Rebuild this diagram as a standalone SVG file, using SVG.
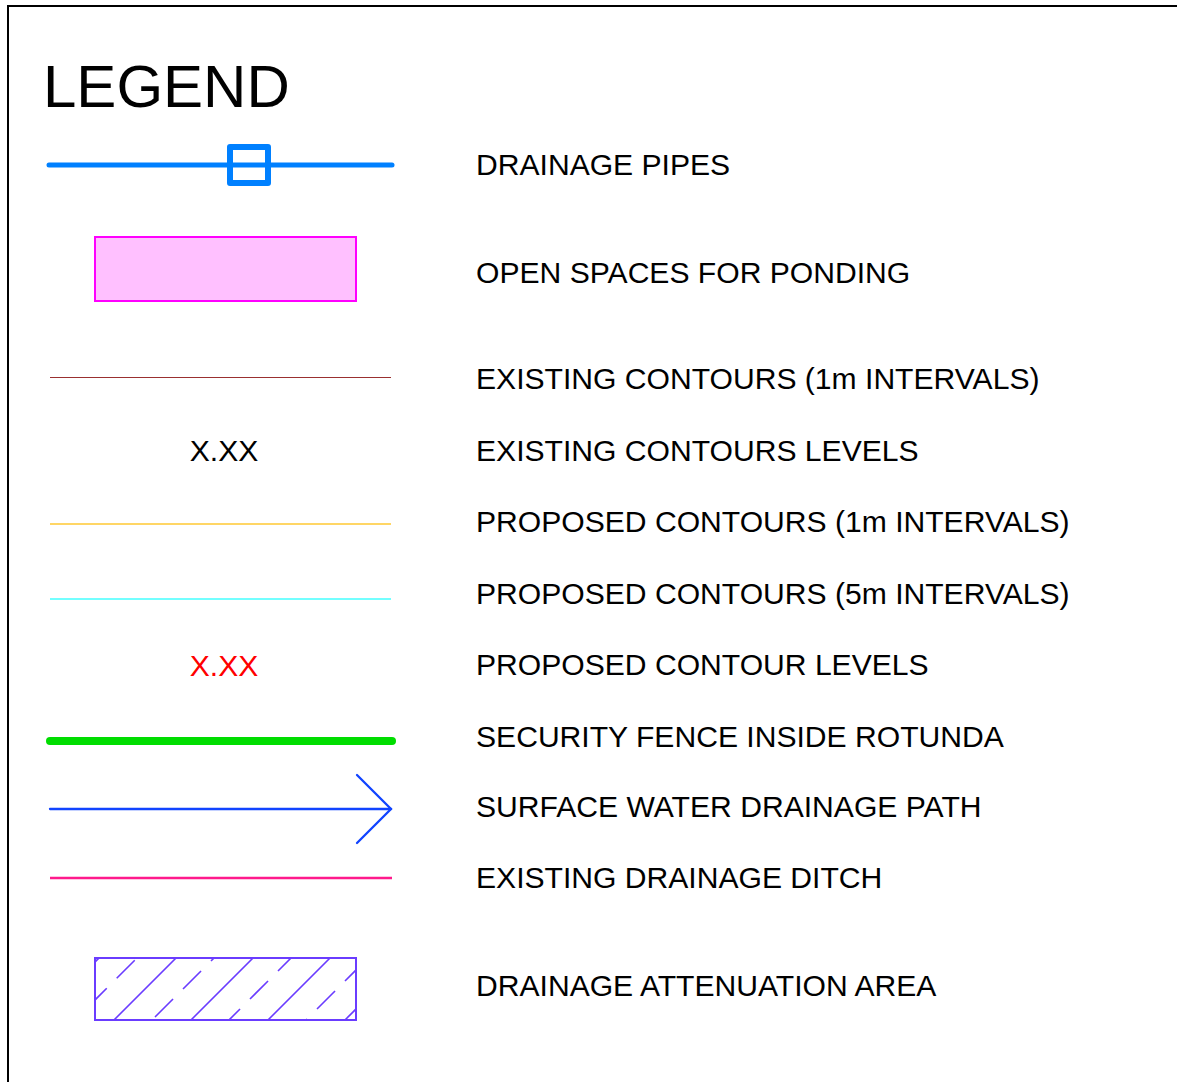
<svg xmlns="http://www.w3.org/2000/svg" width="1177" height="1082" viewBox="0 0 1177 1082">
<style>
.lbl{font-family:"Liberation Sans",Arial,sans-serif;font-size:30.1px;fill:#000}
.title{font-family:"Liberation Sans",Arial,sans-serif;font-size:60px;fill:#000}
.hatch{stroke:#6a3cff;stroke-width:1.6;fill:none}
</style>
<defs>
<clipPath id="hclip"><rect x="95" y="958" width="261" height="62"/></clipPath>
</defs>
<rect x="8" y="6" width="1200" height="1100" fill="#fff" stroke="#000" stroke-width="2"/>
<text class="title" x="43" y="107">LEGEND</text>
<g id="sym-pipes">
<line x1="49" y1="165" x2="392" y2="165" stroke="#0080ff" stroke-width="5" stroke-linecap="round"/>
<rect x="230" y="147" width="38" height="36" fill="none" stroke="#0080ff" stroke-width="6" stroke-linejoin="round"/>
</g>
<g id="sym-ponding"><rect x="95" y="237" width="261" height="64" fill="#ffc0ff" stroke="#ff00ff" stroke-width="2"/></g>
<g id="sym-existing-contours"><line x1="50" y1="377.5" x2="391" y2="377.5" stroke="#9a3030" stroke-width="1.2"/></g>
<g id="sym-existing-levels"><text class="lbl" x="224" y="461" text-anchor="middle">X.XX</text></g>
<g id="sym-proposed-1m"><line x1="50" y1="524" x2="391" y2="524" stroke="#ffc832" stroke-width="1.5"/></g>
<g id="sym-proposed-5m"><line x1="50" y1="599" x2="391" y2="599" stroke="#44ffff" stroke-width="1.5"/></g>
<g id="sym-proposed-levels"><text class="lbl" x="224" y="676" text-anchor="middle" style="fill:#ff0000">X.XX</text></g>
<g id="sym-fence"><line x1="50" y1="741" x2="392" y2="741" stroke="#00dd00" stroke-width="8" stroke-linecap="round"/></g>
<g id="sym-drainage-path" stroke="#1144ff" stroke-width="2.3" fill="none" stroke-linecap="round">
<line x1="50" y1="809" x2="391" y2="809"/>
<polyline points="357,775 391,809 357,843"/>
</g>
<g id="sym-ditch"><line x1="50" y1="878" x2="392" y2="878" stroke="#ff1a8c" stroke-width="2.5"/></g>
<g id="sym-attenuation">
<g clip-path="url(#hclip)" class="hatch">
<line x1="40" y1="1017" x2="160" y2="897"/>
<line x1="100" y1="1034" x2="200" y2="934"/>
<line x1="177" y1="1034" x2="277" y2="934"/>
<line x1="254" y1="1034" x2="354" y2="934"/>
<line x1="331" y1="1034" x2="431" y2="934"/>
<g stroke-dasharray="25.5 14.1">
<line x1="60.7" y1="1034.3" x2="160.7" y2="934.3"/>
<line x1="127" y1="1045" x2="227" y2="945"/>
<line x1="222" y1="1027" x2="322" y2="927"/>
<line x1="289" y1="1037" x2="389" y2="937"/>
</g>
</g>
<rect x="95" y="958" width="261" height="62" fill="none" stroke="#6a3cff" stroke-width="2"/>
</g>
<g id="labels">
<text class="lbl" x="476" y="175">DRAINAGE PIPES</text>
<text class="lbl" x="476" y="283">OPEN SPACES FOR PONDING</text>
<text class="lbl" x="476" y="389">EXISTING CONTOURS (1m INTERVALS)</text>
<text class="lbl" x="476" y="461">EXISTING CONTOURS LEVELS</text>
<text class="lbl" x="476" y="532">PROPOSED CONTOURS (1m INTERVALS)</text>
<text class="lbl" x="476" y="604">PROPOSED CONTOURS (5m INTERVALS)</text>
<text class="lbl" x="476" y="675">PROPOSED CONTOUR LEVELS</text>
<text class="lbl" x="476" y="747">SECURITY FENCE INSIDE ROTUNDA</text>
<text class="lbl" x="476" y="817">SURFACE WATER DRAINAGE PATH</text>
<text class="lbl" x="476" y="888">EXISTING DRAINAGE DITCH</text>
<text class="lbl" x="476" y="996">DRAINAGE ATTENUATION AREA</text>
</g>
</svg>
